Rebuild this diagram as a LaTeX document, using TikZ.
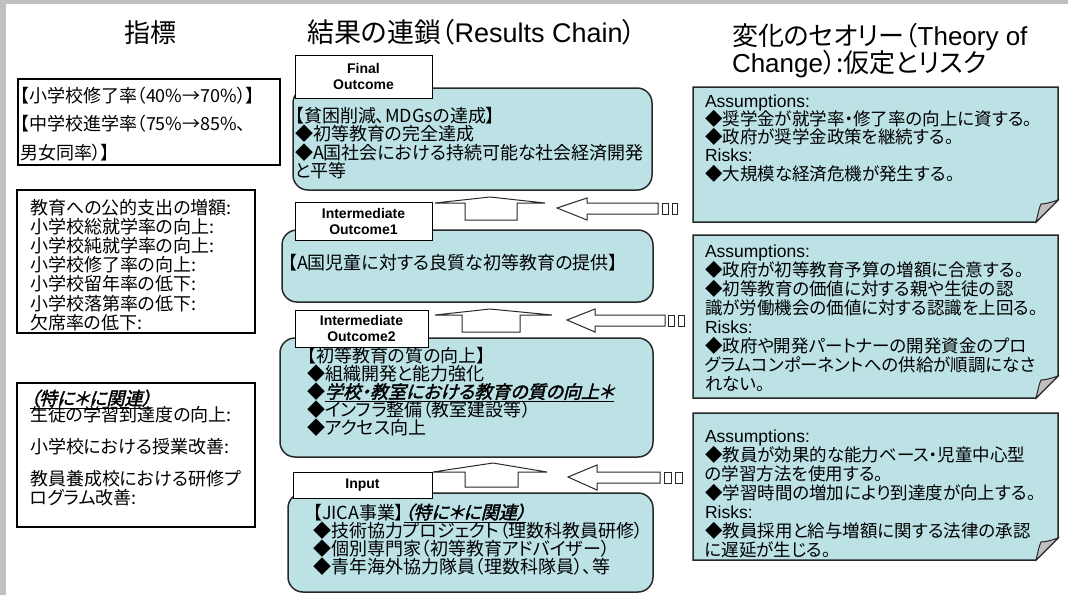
\documentclass[tikz,border=0pt]{standalone}
\usepackage{fontspec}
\setmainfont{Noto Sans CJK JP}[RawFeature=+palt]
\newfontfamily\arialf{Liberation Sans}
\newfontfamily\slantjp[FakeSlant=0.25,FakeBold=2,RawFeature=+palt]{Noto Sans CJK JP}
\definecolor{boxfill}{RGB}{188,226,230}
\definecolor{framegray}{RGB}{192,192,192}
\definecolor{inkline}{RGB}{40,40,40}
\newcommand\tightls{\lineskiplimit -30pt\relax}
\tikzset{
  every node/.style={inner sep=0pt, outer sep=0pt},
  body/.style={anchor=base west, align=left, font={\fontsize{18}{18.5}\selectfont\tightls}},
  notetext/.style={anchor=base west, align=left, font={\fontsize{17.5}{19}\selectfont\tightls}},
  header/.style={anchor=base west, align=left, font={\fontsize{26}{27}\selectfont\tightls}},
  leftbox/.style={draw=black, line width=1.2pt, fill=white, anchor=north west},
  chainbox/.style={draw=inkline, line width=1.5pt, fill=boxfill, rounded corners=15pt, anchor=north west},
  tagbox/.style={draw=black, line width=1pt, fill=white, align=center,
    font={\arialf\bfseries\fontsize{14}{16}\selectfont}},
  blockarrow/.style={draw=inkline, line width=1pt, fill=white},
  notebox/.style={draw=inkline, line width=1.5pt, fill=boxfill},
  flap/.style={draw=inkline, line width=1pt, fill=gray!50},
}
\begin{document}
\begin{tikzpicture}[x=1pt,y=-1pt]
\useasboundingbox (0,0) rectangle (1068,595);
\fill[framegray] (0,0) rectangle (1068,595);
\fill[white] (6,4) rectangle (1068,595);

% headers (anchor = baseline of last line)
\node[header] (h1) at (124,42.4) {指標};
\node[header, font={\fontsize{27}{27}\selectfont}] (h2) at (307,42.4) {結果の連鎖（{\arialf Results Chain}）};
\node[header] (h3) at (732,72) {変化のセオリー（{\arialf Theory of}\\{\arialf Change}）:仮定とリスク};

% left indicator boxes
\node[leftbox, minimum width=262pt, minimum height=86pt] (ind1) at (18,79) {};
\node[body, font={\fontsize{18}{28.5}\selectfont\tightls}] (ind1t) at (20,159)
  {【小学校修了率（40\%→70\%）】\\【中学校進学率（75\%→85\%、\\男女同率）】};
\node[leftbox, minimum width=238pt, minimum height=143pt] (ind2) at (17,190) {};
\node[body, font={\fontsize{18}{19.2}\selectfont\tightls}] (ind2t) at (30,329.2)
  {教育への公的支出の増額:\\小学校総就学率の向上:\\小学校純就学率の向上:\\小学校修了率の向上:\\小学校留年率の低下:\\小学校落第率の低下:\\欠席率の低下:};
\node[leftbox, minimum width=238pt, minimum height=144pt] (ind3) at (17,383) {};
\node[body, font={\fontsize{18}{19}\selectfont\tightls}] (ind3t) at (30,504)
  {\underline{\slantjp （特に＊に関連）}\\[-3pt]生徒の学習到達度の向上:\\[13pt]小学校における授業改善:\\[13pt]教員養成校における研修プ\\ログラム改善:};

% results chain boxes
\node[chainbox, minimum width=359pt, minimum height=102pt] (finalbox) at (293,88) {};
\node[body] (finalt) at (295,177.5)
  {【貧困削減、MDGsの達成】\\◆初等教育の完全達成\\◆A国社会における持続可能な社会経済開発\\と平等};
\node[chainbox, minimum width=371pt, minimum height=72pt] (io1box) at (282,230) {};
\node[body] (io1t) at (288,269) {【A国児童に対する良質な初等教育の提供】};
\node[chainbox, minimum width=373pt, minimum height=119pt] (io2box) at (280,338) {};
\node[body, font={\fontsize{18}{18.2}\selectfont\tightls}] (io2t) at (307,434.8)
  {【初等教育の質の向上】\\◆組織開発と能力強化\\◆\underline{\slantjp 学校・教室における教育の質の向上＊}\\◆インフラ整備（教室建設等）\\◆アクセス向上};
\node[chainbox, minimum width=365pt, minimum height=99pt] (inputbox) at (288,493) {};
\node[body, font={\fontsize{18}{18.3}\selectfont\tightls}] (inputt) at (313,573.9)
  {【JICA事業】\underline{\slantjp （特に＊に関連）}\\◆技術協力プロジェクト（理数科教員研修）\\◆個別専門家（初等教育アドバイザー）\\◆青年海外協力隊員（理数科隊員）、等};

% tags
\node[tagbox, minimum width=137pt, minimum height=43pt] (finaltag) at (363.5,76.5) {Final\\Outcome};
\node[tagbox, minimum width=137pt, minimum height=38pt] (io1tag) at (363.5,221) {Intermediate\\Outcome1};
\node[tagbox, minimum width=133pt, minimum height=37pt] (io2tag) at (361.5,328.5) {Intermediate\\Outcome2};
\node[tagbox, minimum width=139pt, minimum height=26pt] (inputtag) at (362.5,485) {Input};

% up arrows
\draw[blockarrow] (435,203) -- (490,197) -- (545,203) -- (517,203) -- (517,220) -- (465,220) -- (465,203) -- cycle;
\draw[blockarrow] (435,315) -- (490,309) -- (552,315) -- (520,315) -- (520,332) -- (462,332) -- (462,315) -- cycle;
\draw[blockarrow] (433,472) -- (493,463) -- (547,472) -- (518,472) -- (518,487) -- (465,487) -- (465,472) -- cycle;

% left striped arrows
\draw[blockarrow] (557,208) -- (587,198) -- (587,203) -- (658,203) -- (658,214) -- (587,214) -- (587,220) -- cycle;
\draw[blockarrow] (662,203) rectangle (668,214);
\draw[blockarrow] (672,203) rectangle (677,214);
\draw[blockarrow] (567,320) -- (595,309) -- (595,315) -- (665,315) -- (665,326) -- (595,326) -- (595,332) -- cycle;
\draw[blockarrow] (668,315) rectangle (674,326);
\draw[blockarrow] (678,315) rectangle (684,326);
\draw[blockarrow] (568,477) -- (597,465) -- (597,472) -- (660,472) -- (660,483) -- (597,483) -- (597,490) -- cycle;
\draw[blockarrow] (664,472) rectangle (671,483);
\draw[blockarrow] (675,472) rectangle (682,483);

% notes
\draw[notebox] (693,87) -- (1058,87) -- (1058,200) -- (1036,222) -- (693,222) -- cycle;
\draw[flap] (1036,222) .. controls (1038,214) and (1039,208) .. (1041,204) .. controls (1046,204) and (1052,202) .. (1058,200) -- cycle;
\node[notetext, font={\fontsize{17.5}{18.3}\selectfont\tightls}] (n1t) at (705,180.2)
  {{\arialf Assumptions:}\\◆奨学金が就学率・修了率の向上に資する。\\◆政府が奨学金政策を継続する。\\{\arialf Risks:}\\◆大規模な経済危機が発生する。};

\draw[notebox] (693,235) -- (1058,235) -- (1058,376) -- (1036,398) -- (693,398) -- cycle;
\draw[flap] (1036,398) .. controls (1038,390) and (1039,384) .. (1041,380) .. controls (1046,380) and (1052,378) .. (1058,376) -- cycle;
\node[notetext] (n2t) at (705,390)
  {{\arialf Assumptions:}\\◆政府が初等教育予算の増額に合意する。\\◆初等教育の価値に対する親や生徒の認\\識が労働機会の価値に対する認識を上回る。\\{\arialf Risks:}\\◆政府や開発パートナーの開発資金のプロ\\グラムコンポーネントへの供給が順調になさ\\れない。};

\draw[notebox] (693,413) -- (1058,413) -- (1058,538) -- (1036,560) -- (693,560) -- cycle;
\draw[flap] (1036,560) .. controls (1038,552) and (1039,546) .. (1041,542) .. controls (1046,542) and (1052,540) .. (1058,538) -- cycle;
\node[notetext] (n3t) at (705,556)
  {{\arialf Assumptions:}\\◆教員が効果的な能力ベース・児童中心型\\の学習方法を使用する。\\◆学習時間の増加により到達度が向上する。\\{\arialf Risks:}\\◆教員採用と給与増額に関する法律の承認\\に遅延が生じる。};
\end{tikzpicture}
\end{document}
